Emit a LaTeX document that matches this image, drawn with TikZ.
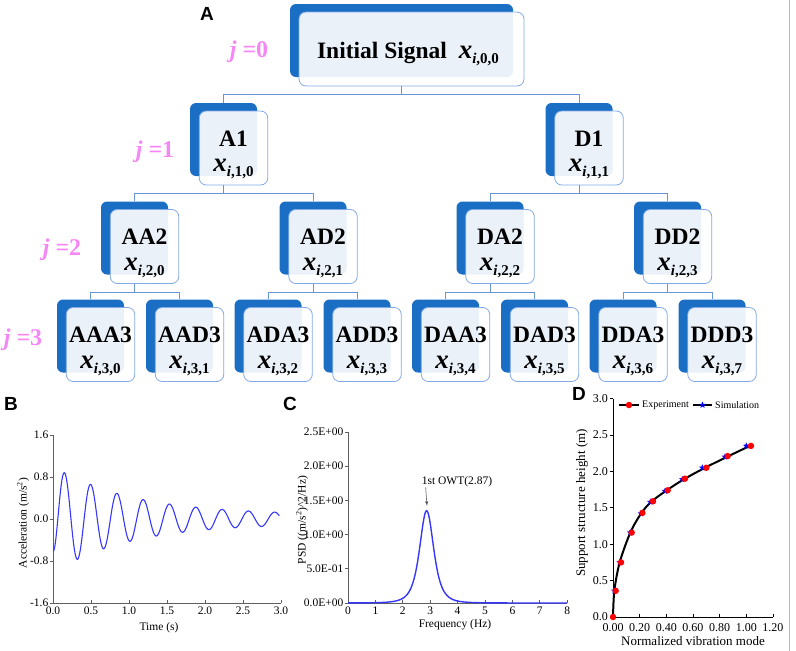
\documentclass[tikz,border=0pt]{standalone}
\usepackage{fontspec}
\setmainfont{Liberation Serif}
\newfontfamily\arialfont{Liberation Sans}
\usetikzlibrary{calc,shapes.geometric}

\definecolor{dunkelblau}{RGB}{26,110,196}
\definecolor{randblau}{RGB}{130,170,230}
\definecolor{astblau}{RGB}{105,148,215}
\definecolor{rosa}{RGB}{245,135,245}
\definecolor{kurvenblau}{RGB}{55,55,250}
\definecolor{achsgrau}{RGB}{95,95,95}

\def\gross{\fontsize{23.5}{26}\selectfont\bfseries}
\def\xs#1#2{{\fontsize{27}{27}\selectfont\bfseries\itshape x}\raisebox{-5pt}{\fontsize{15}{15}\selectfont\bfseries\textit{i},#1,#2}}
% back box, front box and the two text lines
\def\kasten#1#2#3#4#5#6{
\node[hinten] (#1b) at (#2,#3) {};
\node[vorn] (#1) at ($(#1b)+(10,8.5)$) {};
\node[titel] (#1t) at ($(#1)+(0,-9.5)$) {#4};
\node[titel] (#1x) at ($(#1)+(0,21)$) {\xs{#5}{#6}};
}
% parent to two children
\def\zweig#1#2#3{
\draw[ast] (#1b |- #1.south) -- ++(0,8) coordinate (#1m);
\draw[ast] (#2b.north) |- (#1m) -| (#3b.north);
}

\begin{document}
\begin{tikzpicture}[x=1pt,y=-1pt,>=latex,
  hinten/.style={fill=dunkelblau,rounded corners=6pt,minimum width=67pt,minimum height=73pt,inner sep=0pt},
  vorn/.style={draw=randblau,line width=0.8pt,fill=white,fill opacity=0.91,rounded corners=7pt,minimum width=68.5pt,minimum height=74pt,inner sep=0pt},
  titel/.style={font=\gross,inner sep=0pt},
  ast/.style={astblau,line width=0.8pt},
  jstil/.style={rosa,font=\fontsize{24}{24}\selectfont\bfseries,inner sep=0pt},
  buchst/.style={font=\fontsize{19}{19}\arialfont\bfseries,inner sep=0pt},
  achseB/.style={achsgrau,line width=0.8pt},
  achseD/.style={black,line width=0.9pt},
  zahlB/.style={font=\fontsize{11.5}{12}\selectfont,inner sep=0pt},
  zahlD/.style={font=\fontsize{12}{13}\selectfont,inner sep=0pt},
  titelD/.style={font=\fontsize{13}{14}\selectfont,inner sep=0pt},
  legende/.style={font=\fontsize{10}{11}\selectfont,inner sep=0pt},
  kurve/.style={kurvenblau,line width=1.1pt},
  linieD/.style={black,line width=2pt},
  punkt/.style={circle,fill=red,minimum size=6.5pt,inner sep=0pt},
  stern/.style={star,star points=5,star point ratio=2.3,fill=blue,minimum size=7pt,inner sep=0pt}]
\useasboundingbox (0,0) rectangle (796,651);
\draw[gray!55] (789,0) -- (789,651);

% A: tree
\node[hinten,minimum width=223pt] (s0b) at (401.5,40.5) {};
\node[vorn,minimum width=225pt] (s0) at ($(s0b)+(10,8.5)$) {};
\node[titel] (s0t) at ($(s0)+(-3.5,5.5)$) {Initial Signal\ \ \xs{0}{0}};

\kasten{a1}{223.5}{139.5}{A1}{1}{0}
\kasten{d1}{579}{139.5}{D1}{1}{1}
\kasten{aa2}{134.5}{238}{AA2}{2}{0}
\kasten{ad2}{313}{238}{AD2}{2}{1}
\kasten{da2}{490}{238}{DA2}{2}{2}
\kasten{dd2}{667.5}{238}{DD2}{2}{3}
\kasten{aaa3}{90.5}{336}{AAA3}{3}{0}
\kasten{aad3}{179.5}{336}{AAD3}{3}{1}
\kasten{ada3}{268}{336}{ADA3}{3}{2}
\kasten{add3}{357}{336}{ADD3}{3}{3}
\kasten{daa3}{445.5}{336}{DAA3}{3}{4}
\kasten{dad3}{534.5}{336}{DAD3}{3}{5}
\kasten{dda3}{623}{336}{DDA3}{3}{6}
\kasten{ddd3}{712}{336}{DDD3}{3}{7}

\zweig{s0}{a1}{d1}
\zweig{a1}{aa2}{ad2}
\zweig{d1}{da2}{dd2}
\zweig{aa2}{aaa3}{aad3}
\zweig{ad2}{ada3}{add3}
\zweig{da2}{daa3}{dad3}
\zweig{dd2}{dda3}{ddd3}

\node[jstil] (j0) at (249,52) {\textit{j} =0};
\node[jstil] (j1) at (155,152) {\textit{j} =1};
\node[jstil] (j2) at (62,250) {\textit{j} =2};
\node[jstil] (j3) at (23,340) {\textit{j} =3};

\node[buchst] (pa) at (207,14) {A};
\node[buchst] (pb) at (11,404) {B};
\node[buchst] (pc) at (290,404) {C};
\node[buchst] (pd) at (579,394) {D};

% B: acceleration
\begin{scope}[shift={(53,519)},x=76pt,y=52.5pt]
\draw[achseB] (0,1.6) -- (0,-1.6) -- (3,-1.6);
\foreach \w [count=\i] in {-1.6,-0.8,0.0,0.8,1.6}{
  \draw[achseB] (0,\w) -- ++(-3pt,0);
  \node[zahlB,anchor=east] (by\i) at ([xshift=-4.5pt]0,\w) {\w};
}
\foreach \w [count=\i] in {0.0,0.5,1.0,1.5,2.0,2.5,3.0}{
  \draw[achseB] (\w,-1.6) -- ++(0,3pt);
  \node[zahlB,anchor=north] (bx\i) at ([yshift=-4pt]\w,-1.6) {\w};
}
\draw[kurve] plot[domain=0:2.98,samples=400]
  (\x,{(0.08+0.95*exp(-\x))*(1-0.35*exp(-min(20*\x,9)))*cos(360*2.89*(\x-0.15))});
\end{scope}
\node[zahlB,rotate=90] (bytitel) at (23,523) {Acceleration (m/s\textsuperscript{2})};
\node[zahlB] (bxtitel) at (159,628) {Time (s)};

% C: PSD
\begin{scope}[shift={(348,603)},x=27.4pt,y=68.4pt]
\draw[achseB] (0,2.5) -- (0,0) -- (8,0);
\foreach \w/\t [count=\i] in {0/0.0E+00,0.5/5.0E-01,1/1.0E+00,1.5/1.5E+00,2/2.0E+00,2.5/2.5E+00}{
  \draw[achseB] (0,\w) -- ++(-3pt,0);
  \node[zahlB,anchor=east] (cy\i) at ([xshift=-4.5pt]0,\w) {\t};
}
\foreach \w [count=\i] in {0,...,8}{
  \draw[achseB] (\w,0) -- ++(0,3pt);
  \node[zahlB,anchor=north] (cx\i) at ([yshift=-4pt]\w,0) {\w};
}
\draw[kurve,line width=1.4pt] plot[domain=0:8,samples=300]
  (\x,{1.35/(1+((\x-2.87)/0.47)*((\x-2.87)/0.47))/(1+((\x-2.87)/0.47)*((\x-2.87)/0.47))});
\end{scope}
\node[zahlB] (owt) at (457,482) {1st OWT(2.87)};
\coordinate (owtspitze) at (427,506);
\draw[->,achsgrau,line width=0.6pt] ([xshift=4pt]owt.south west) -- (owtspitze);
\node[zahlB,rotate=90] (cytitel) at (302,520) {PSD ((m/s\textsuperscript{2})\textasciicircum 2/Hz)};
\node[zahlB] (cxtitel) at (455,625) {Frequency (Hz)};

% D: mode shape
\begin{scope}[shift={(613,617)},x=133.3pt,y=72.8pt]
\draw[achseD] (0,3) -- (0,0) -- (1.2,0);
\foreach \w [count=\i] in {0.0,0.5,1.0,1.5,2.0,2.5,3.0}{
  \draw[achseD] (0,\w) -- ++(-3pt,0);
  \node[zahlD,anchor=east] (dy\i) at ([xshift=-5pt]0,\w) {\w};
}
\foreach \w [count=\i] in {0.00,0.20,0.40,0.60,0.80,1.00,1.20}{
  \draw[achseD] (\w,0) -- ++(0,3pt);
  \node[zahlD,anchor=north] (dx\i) at ([yshift=-6pt]\w,0) {\w};
}
\draw[linieD] plot[smooth] coordinates {(0,0) (0.01,0.36) (0.05,0.75) (0.13,1.16)
  (0.21,1.42) (0.285,1.58) (0.395,1.73) (0.53,1.89) (0.685,2.045) (0.85,2.195) (1.02,2.345)};
\foreach \p/\q [count=\i] in {0.01/0.36,0.05/0.75,0.13/1.16,0.21/1.42,0.28/1.58,
  0.39/1.73,0.52/1.89,0.67/2.05,0.84/2.20,1.00/2.35}
  \node[stern] (st\i) at (\p,\q) {};
\foreach \p/\q [count=\i] in {0.0/0.0,0.02/0.36,0.06/0.75,0.14/1.16,0.22/1.43,0.30/1.59,
  0.41/1.74,0.54/1.90,0.70/2.05,0.86/2.21,1.035/2.35}
  \node[punkt] (pt\i) at (\p,\q) {};
\end{scope}
\node[titelD,rotate=90] (dytitel) at (582,503) {Support structure height (m)};
\node[titelD] (dxtitel) at (693,641) {Normalized vibration mode};

\draw[black,line width=1.4pt] (619,405) -- (639,405);
\node[punkt] (lpunkt) at (629,405) {};
\node[legende,anchor=west] (lexp) at (642,405) {Experiment};
\draw[black,line width=1.4pt] (693,405) -- (712,405);
\node[stern] (lstern) at (702.5,405) {};
\node[legende,anchor=west] (lsim) at (715,405) {Simulation};
\end{tikzpicture}
\end{document}
